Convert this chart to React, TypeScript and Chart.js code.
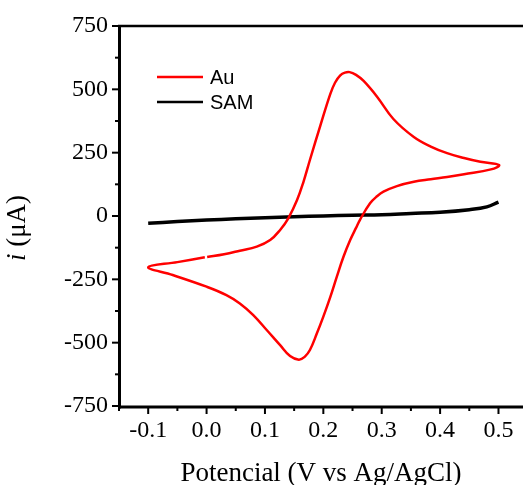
import React, { useEffect, useRef } from "react";
import { Chart, registerables } from "chart.js";

Chart.register(...registerables);

// ---- data ----
const seriesLabels = ["Au", "SAM"];
const seriesColors = ["#ff0000", "#000000"];

const auPotential = [
  0.001, 0.03, 0.057, 0.086, 0.109, 0.126, 0.14, 0.155, 0.166, 0.177, 0.195, 0.212, 0.22, 0.229,
  0.237, 0.245, 0.256, 0.269, 0.292, 0.32, 0.355, 0.384, 0.412, 0.441, 0.469, 0.501,
  0.487, 0.441, 0.412, 0.384, 0.355, 0.326, 0.303, 0.292, 0.28, 0.263, 0.256, 0.246, 0.2345,
  0.223, 0.212, 0.2, 0.189, 0.177, 0.168, 0.158, 0.143, 0.126, 0.103, 0.08, 0.057, 0.034, 0.0,
  -0.058, -0.1, -0.05, -0.003,
];
const auCurrent = [
  -162, -151, -137, -121, -95, -55, -9, 63, 135, 221, 358, 482, 526, 555,
  566, 568, 557, 533, 471, 383, 312, 274, 248, 229, 214, 201,
  184, 165, 154, 145, 135, 118, 96, 78, 50, -14, -47, -95, -161,
  -240, -319, -397, -463, -529, -556, -567, -553, -510, -450, -391, -345, -312, -279,
  -233, -202, -182, -163,
];

const samPotential = [-0.1, -0.05, 0.0, 0.05, 0.1, 0.15, 0.2, 0.25, 0.3, 0.35, 0.4, 0.45, 0.48, 0.5];
const samCurrent = [-29, -22, -16, -11, -7, -3, 0, 3, 5, 10, 15, 25, 36, 55];

const xTickValues = [-0.15, -0.1, -0.05, 0.0, 0.05, 0.1, 0.15, 0.2, 0.25, 0.3, 0.35, 0.4, 0.45, 0.5];
const xLabelValues = [-0.1, 0.0, 0.1, 0.2, 0.3, 0.4, 0.5];
const yTickValues = [-750, -625, -500, -375, -250, -125, 0, 125, 250, 375, 500, 625, 750];
const yLabelValues = [-750, -500, -250, 0, 250, 500, 750];

const xMin = -0.15;
const xMax = 0.542;
const yMin = -750;
const yMax = 750;

const xTitle = "Potencial (V vs Ag/AgCl)";
const yTitleItalic = "i";
const yTitleRest = " (\u03bcA)";

const SERIF = '"Liberation Serif", "Times New Roman", serif';
const SANS = '"Liberation Sans", Arial, sans-serif';

const isLabelX = (v: number) => xLabelValues.some((l) => Math.abs(l - v) < 1e-6);
const isLabelY = (v: number) => yLabelValues.some((l) => Math.abs(l - v) < 1e-6);

const framePlugin = {
  id: "frame",
  afterDraw(chart: any) {
    const { ctx, chartArea: a, scales } = chart;
    const x = scales.x;
    const y = scales.y;
    ctx.save();
    ctx.strokeStyle = "#000";
    ctx.lineCap = "butt";

    const seg = (x1: number, y1: number, x2: number, y2: number) => {
      ctx.beginPath();
      ctx.moveTo(x1, y1);
      ctx.lineTo(x2, y2);
      ctx.stroke();
    };

    // ticks
    ctx.lineWidth = 2;
    x.ticks.forEach((t: any) => {
      const px = x.getPixelForValue(t.value);
      const len = isLabelX(t.value) ? 7 : 4;
      seg(px, a.bottom + 1, px, a.bottom + 1 + len);
    });
    y.ticks.forEach((t: any) => {
      const py = y.getPixelForValue(t.value);
      const len = isLabelY(t.value) ? 7 : 4;
      seg(a.left, py, a.left - len, py);
    });

    // axis lines
    ctx.lineWidth = 3;
    seg(a.left + 0.5, a.top - 1, a.left + 0.5, a.bottom + 2.5);
    seg(a.left - 1, a.bottom + 1, a.right, a.bottom + 1);
    ctx.lineWidth = 2.5;
    seg(a.left - 1, a.top, a.right, a.top);

    // legend
    const ds = chart.data.datasets;
    const legendX1 = a.left + 38;
    const legendX2 = a.left + 84;
    const legendTop = a.top + 51;
    ctx.font = `20px ${SANS}`;
    ctx.textBaseline = "middle";
    ctx.textAlign = "left";
    ds.forEach((d: any, i: number) => {
      const ly = legendTop + i * 25;
      ctx.strokeStyle = d.borderColor;
      ctx.lineWidth = 2.5;
      seg(legendX1, ly, legendX2, ly);
      ctx.fillStyle = "#000";
      ctx.fillText(d.label, legendX2 + 7, ly + 1);
    });

    // y title (italic i + normal rest)
    ctx.fillStyle = "#000";
    const italicFont = `italic 27px ${SERIF}`;
    const normalFont = `27px ${SERIF}`;
    ctx.font = italicFont;
    const w1 = ctx.measureText(yTitleItalic).width;
    ctx.font = normalFont;
    const w2 = ctx.measureText(yTitleRest).width;
    const total = w1 + w2;
    ctx.translate(18, (a.top + a.bottom) / 2 + 12);
    ctx.rotate(-Math.PI / 2);
    ctx.textBaseline = "middle";
    ctx.textAlign = "left";
    ctx.font = italicFont;
    ctx.fillText(yTitleItalic, -total / 2, 0);
    ctx.font = normalFont;
    ctx.fillText(yTitleRest, -total / 2 + w1, 0);
    ctx.restore();
  },
};

export default function App() {
  const canvasRef = useRef<HTMLCanvasElement | null>(null);

  useEffect(() => {
    document.body.style.margin = "0";
    const canvas = canvasRef.current;
    if (!canvas) return;
    const chart = new Chart(canvas, {
      type: "line",
      data: {
        datasets: [
          {
            label: seriesLabels[0],
            data: auPotential.map((v, i) => ({ x: v, y: auCurrent[i] })),
            borderColor: seriesColors[0],
            backgroundColor: seriesColors[0],
            borderWidth: 2.5,
            pointRadius: 0,
            tension: 0.4,
            fill: false,
          },
          {
            label: seriesLabels[1],
            data: samPotential.map((v, i) => ({ x: v, y: samCurrent[i] })),
            borderColor: seriesColors[1],
            backgroundColor: seriesColors[1],
            borderWidth: 3.5,
            pointRadius: 0,
            tension: 0.4,
            fill: false,
          },
        ],
      },
      options: {
        animation: false,
        responsive: false,
        devicePixelRatio: 1,
        layout: { padding: { top: 26, left: 0, right: 0, bottom: 0 } },
        plugins: {
          legend: { display: false },
          tooltip: { enabled: false },
          title: { display: false },
        },
        scales: {
          x: {
            type: "linear",
            min: xMin,
            max: xMax,
            afterBuildTicks: (scale: any) => {
              scale.ticks = xTickValues.map((v) => ({ value: v }));
            },
            afterFit: (scale: any) => {
              scale.height = 79;
            },
            grid: {
              display: true,
              drawOnChartArea: false,
              drawTicks: true,
              tickLength: 7,
              color: "rgba(0,0,0,0)",
            },
            border: { display: false },
            ticks: {
              autoSkip: false,
              maxRotation: 0,
              minRotation: 0,
              padding: 3,
              color: "#000",
              font: { family: SERIF, size: 24 },
              callback: (value: any) => (isLabelX(Number(value)) ? Number(value).toFixed(1) : ""),
            },
            title: {
              display: true,
              text: xTitle,
              color: "#000",
              font: { family: SERIF, size: 27, lineHeight: 0.8 },
              padding: 0,
            },
          },
          y: {
            type: "linear",
            min: yMin,
            max: yMax,
            afterBuildTicks: (scale: any) => {
              scale.ticks = yTickValues.map((v) => ({ value: v }));
            },
            afterFit: (scale: any) => {
              scale.width = 119;
            },
            grid: {
              display: true,
              drawOnChartArea: false,
              drawTicks: true,
              tickLength: 7,
              color: "rgba(0,0,0,0)",
            },
            border: { display: false },
            ticks: {
              autoSkip: false,
              padding: 4,
              color: "#000",
              font: { family: SERIF, size: 24 },
              callback: (value: any) => (isLabelY(Number(value)) ? String(value) : ""),
            },
            title: { display: false },
          },
        },
      },
      plugins: [framePlugin],
    } as any);
    return () => chart.destroy();
  }, []);

  return (
    <div style={{ position: "absolute", left: 0, top: 0, width: 523, height: 485 }}>
      <canvas ref={canvasRef} width={523} height={485} style={{ width: 523, height: 485, display: "block" }} />
    </div>
  );
}
